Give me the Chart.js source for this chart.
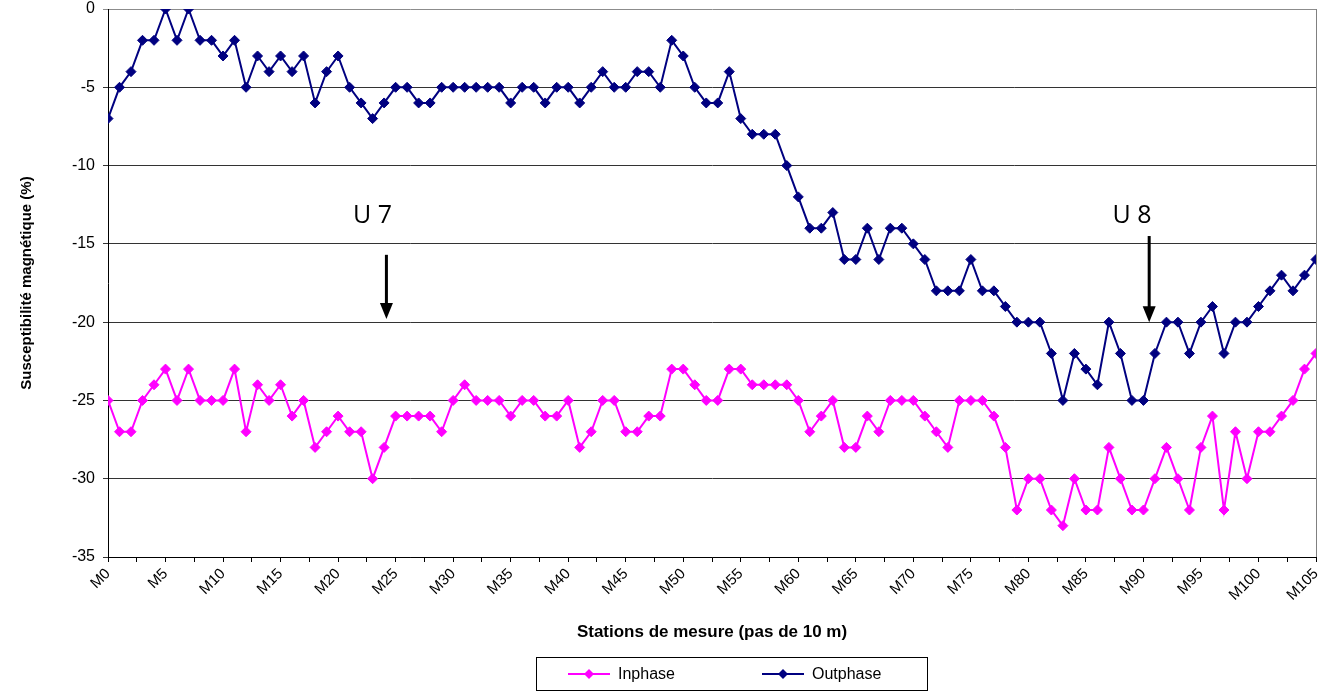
<!DOCTYPE html>
<html>
<head>
<meta charset="utf-8">
<script src="https://cdn.jsdelivr.net/npm/chart.js@4.4.1/dist/chart.umd.min.js"></script>
<style>
    html, body { margin: 0; padding: 0; background: #fff; }
    #wrap { width: 1322px; height: 693px; }
</style>
</head>
<body>
<div id="wrap"><canvas id="lineChart" width="1322" height="693"></canvas></div>
<script>
// Stations M0 .. M105, one reading every 10 m
const stations = Array.from({ length: 106 }, (_, i) => 'M' + i);

const inphase = [
    -25, -27, -27, -25, -24, -23, -25, -23, -25, -25,
    -25, -23, -27, -24, -25, -24, -26, -25, -28, -27,
    -26, -27, -27, -30, -28, -26, -26, -26, -26, -27,
    -25, -24, -25, -25, -25, -26, -25, -25, -26, -26,
    -25, -28, -27, -25, -25, -27, -27, -26, -26, -23,
    -23, -24, -25, -25, -23, -23, -24, -24, -24, -24,
    -25, -27, -26, -25, -28, -28, -26, -27, -25, -25,
    -25, -26, -27, -28, -25, -25, -25, -26, -28, -32,
    -30, -30, -32, -33, -30, -32, -32, -28, -30, -32,
    -32, -30, -28, -30, -32, -28, -26, -32, -27, -30,
    -27, -27, -26, -25, -23, -22
];

const outphase = [
    -7, -5, -4, -2, -2, 0, -2, 0, -2, -2,
    -3, -2, -5, -3, -4, -3, -4, -3, -6, -4,
    -3, -5, -6, -7, -6, -5, -5, -6, -6, -5,
    -5, -5, -5, -5, -5, -6, -5, -5, -6, -5,
    -5, -6, -5, -4, -5, -5, -4, -4, -5, -2,
    -3, -5, -6, -6, -4, -7, -8, -8, -8, -10,
    -12, -14, -14, -13, -16, -16, -14, -16, -14, -14,
    -15, -16, -18, -18, -18, -16, -18, -18, -19, -20,
    -20, -20, -22, -25, -22, -23, -24, -20, -22, -25,
    -25, -22, -20, -20, -22, -20, -19, -22, -20, -20,
    -19, -18, -17, -18, -17, -16
];

// unit labels and their arrows, in station / value coordinates
const unitLabels = ['U 7', 'U 8'];
const unitLabelX = [23, 89];
const unitLabelY = [-13.2, -13.2];
const arrowX = [24.2, 90.5];
const arrowTop = [-15.7, -14.5];
const arrowTip = [-19.8, -20];

const toPoints = (values) => values.map((v, i) => ({ x: i, y: v }));

const ctx = document.getElementById('lineChart').getContext('2d');
Chart.defaults.font.family = '"Liberation Sans", Arial, sans-serif';
Chart.defaults.color = '#000';

// U 7 / U 8 text with downward arrows
const unitMarks = {
    id: 'unitMarks',
    afterDatasetsDraw(chart) {
        const { ctx, scales: { x, y } } = chart;
        ctx.save();
        ctx.fillStyle = '#000';
        ctx.strokeStyle = '#000';
        ctx.font = '25px "Open Sans", sans-serif';
        ctx.textAlign = 'center';
        ctx.textBaseline = 'middle';
        unitLabels.forEach((txt, k) => {
            ctx.fillText(txt, x.getPixelForValue(unitLabelX[k]), y.getPixelForValue(unitLabelY[k]));
            const ax = x.getPixelForValue(arrowX[k]);
            const top = y.getPixelForValue(arrowTop[k]);
            const tip = y.getPixelForValue(arrowTip[k]);
            ctx.lineWidth = 3;
            ctx.beginPath();
            ctx.moveTo(ax, top);
            ctx.lineTo(ax, tip - 12);
            ctx.stroke();
            ctx.beginPath();
            ctx.moveTo(ax - 6.5, tip - 16);
            ctx.lineTo(ax + 6.5, tip - 16);
            ctx.lineTo(ax, tip);
            ctx.closePath();
            ctx.fill();
        });
        ctx.restore();
    }
};

// right border of the plot area + boxed legend below the axis title
const frameAndLegend = {
    id: 'frameAndLegend',
    afterDraw(chart) {
        const { ctx, chartArea } = chart;
        ctx.save();
        ctx.strokeStyle = '#808080';
        ctx.lineWidth = 1;
        ctx.beginPath();
        ctx.moveTo(Math.round(chartArea.right) + 0.5, chartArea.top);
        ctx.lineTo(Math.round(chartArea.right) + 0.5, chartArea.bottom);
        ctx.stroke();

        ctx.strokeStyle = '#000';
        ctx.strokeRect(536.5, 657.5, 391, 33);

        const items = [
            { ds: chart.data.datasets[0], x: 568 },
            { ds: chart.data.datasets[1], x: 762 }
        ];
        const ly = 674;
        ctx.font = '16px "Liberation Sans", Arial, sans-serif';
        ctx.textBaseline = 'middle';
        ctx.textAlign = 'left';
        items.forEach(({ ds, x }) => {
            ctx.strokeStyle = ds.borderColor;
            ctx.fillStyle = ds.borderColor;
            ctx.lineWidth = 2;
            ctx.beginPath();
            ctx.moveTo(x, ly);
            ctx.lineTo(x + 42, ly);
            ctx.stroke();
            ctx.beginPath();
            ctx.moveTo(x + 21, ly - 5);
            ctx.lineTo(x + 26, ly);
            ctx.lineTo(x + 21, ly + 5);
            ctx.lineTo(x + 16, ly);
            ctx.closePath();
            ctx.fill();
            ctx.fillStyle = '#000';
            ctx.fillText(ds.label, x + 50, ly + 1);
        });
        ctx.restore();
    }
};

const lineChart = new Chart(ctx, {
    type: 'line',
    data: {
        datasets: [
            {
                label: 'Inphase',
                data: toPoints(inphase),
                borderColor: '#FF00FF',
                backgroundColor: '#FF00FF',
                borderWidth: 2,
                pointStyle: 'rectRot',
                pointRadius: 5,
                pointBorderWidth: 1,
                tension: 0
            },
            {
                label: 'Outphase',
                data: toPoints(outphase),
                borderColor: '#000080',
                backgroundColor: '#000080',
                borderWidth: 2,
                pointStyle: 'rectRot',
                pointRadius: 5,
                pointBorderWidth: 1,
                tension: 0
            }
        ]
    },
    options: {
        responsive: false,
        animation: false,
        layout: { padding: { left: 0, right: 6, top: 9, bottom: 0 } },
        plugins: {
            legend: { display: false },
            tooltip: { enabled: false }
        },
        scales: {
            x: {
                type: 'linear',
                min: 0,
                max: 105,
                afterFit: (scale) => {
                    scale.height = 136;
                    scale.paddingLeft = 0;
                    scale.paddingRight = 0;
                },
                grid: {
                    drawOnChartArea: false,
                    drawTicks: true,
                    tickLength: 5,
                    color: '#000'
                },
                border: { color: '#000', width: 1 },
                ticks: {
                    stepSize: 2.5,
                    autoSkip: false,
                    maxRotation: 45,
                    minRotation: 45,
                    padding: 3,
                    font: { size: 15 },
                    callback: (value) => (value % 5 === 0 ? stations[value] : '')
                },
                title: {
                    display: true,
                    text: 'Stations de mesure (pas de 10 m)',
                    font: { size: 17, weight: 'bold' },
                    padding: { top: 0, bottom: 50 }
                }
            },
            y: {
                min: -35,
                max: 0,
                afterFit: (scale) => {
                    scale.width = 108;
                    scale.paddingTop = 0;
                    scale.paddingBottom = 0;
                },
                grid: {
                    color: (c) => (c.tick && c.tick.value === 0 ? '#8c8c8c' : '#333'),
                    lineWidth: 1,
                    drawTicks: true,
                    tickLength: 5
                },
                border: { color: '#000', width: 1 },
                ticks: {
                    stepSize: 5,
                    padding: 8,
                    font: { size: 16 }
                },
                title: {
                    display: true,
                    text: 'Susceptibilité magnétique (%)',
                    font: { size: 15, weight: 'bold' },
                    padding: { top: 18, bottom: 0 }
                }
            }
        }
    },
    plugins: [unitMarks, frameAndLegend]
});
</script>
</body>
</html>
